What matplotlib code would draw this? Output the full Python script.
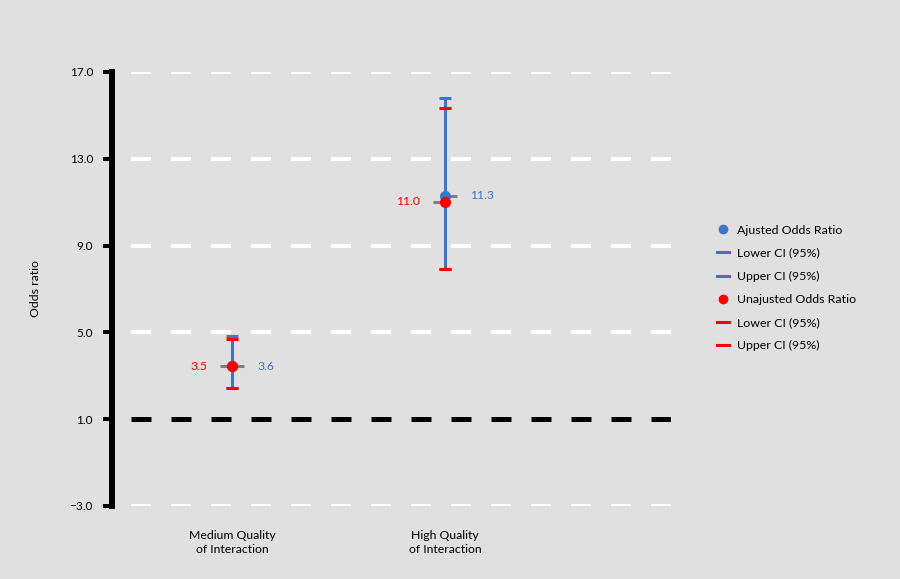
import matplotlib
matplotlib.use("Agg")
import matplotlib.pyplot as plt
from matplotlib.lines import Line2D
import numpy as np

categories = ["Medium Quality\nof Interaction", "High Quality\nof Interaction"]
adj_or = [3.44, 11.29]
adj_lower = [2.42, 7.92]
adj_upper = [4.83, 15.8]
adj_text = ["3.6", "11.3"]
unadj_or = [3.43, 11.02]
unadj_lower = [2.42, 7.92]
unadj_upper = [4.7, 15.34]
unadj_text = ["3.5", "11.0"]
yticks = [-3.0, 1.0, 5.0, 9.0, 13.0, 17.0]

BLUE = "#4472C4"
RED = "#FF0000"
GRAY = "#808080"
BG = "#E0E0E0"

plt.rcParams['font.family'] = ['Lato', 'DejaVu Sans']

fig = plt.figure(figsize=(9, 5.79), dpi=100, facecolor=BG)
ax = fig.add_axes([112/900, 1-506/579, (671-112)/900, (506-72)/579])
ax.set_facecolor(BG)

x = np.array([1.0, 2.0])
ax.set_xlim(1 - 120/213, 2 + 226/213)
ax.set_ylim(-3, 17)

# grid lines
gx0 = (131-112)/559
for yt in yticks:
    if yt == 1.0:
        ax.axhline(yt, xmin=gx0, xmax=1, color="black", lw=3.6,
                   dashes=(4, 4), solid_capstyle='butt', dash_capstyle='butt', zorder=1)
    else:
        ax.axhline(yt, xmin=gx0, xmax=1, color="white", lw=3.0,
                   dashes=(4.8, 4.8), dash_capstyle='butt', zorder=1)

# error bars
adj = np.array(adj_or)
una = np.array(unadj_or)
eb_b = ax.errorbar(x, adj, yerr=[adj - np.array(adj_lower), np.array(adj_upper) - adj],
                   fmt='none', ecolor=BLUE, elinewidth=2.2, capsize=4.3, capthick=2.2, zorder=3)
eb_r = ax.errorbar(x, una, yerr=[una - np.array(unadj_lower), np.array(unadj_upper) - una],
                   fmt='none', ecolor=RED, elinewidth=2.2, capsize=4.3, capthick=2.2, zorder=4)
for lc in eb_r.lines[2]:
    lc.set_visible(False)

# gray value ticks
off = 12/213
for xi, a, u in zip(x, adj, una):
    ax.plot([xi - off, xi], [u, u], color=GRAY, lw=2.2, solid_capstyle='butt', zorder=5)
    ax.plot([xi, xi + off], [a, a], color=GRAY, lw=2.2, solid_capstyle='butt', zorder=5)

ax.plot(x, adj, 'o', color=BLUE, ms=7, zorder=6)
ax.plot(x, una, 'o', color=RED, ms=7, zorder=7)

for xi, a, u, at, ut in zip(x, adj, una, adj_text, unadj_text):
    ax.annotate(at, (xi, a), xytext=(18, 0), textcoords='offset points',
                ha='left', va='center', color=BLUE, fontsize=8.7)
    ax.annotate(ut, (xi, u), xytext=(-18, 0), textcoords='offset points',
                ha='right', va='center', color=RED, fontsize=8.7)

# axes styling
for s in ['top', 'right', 'bottom']:
    ax.spines[s].set_visible(False)
ax.spines['left'].set_linewidth(4.3)
ax.spines['left'].set_color('black')
ax.spines['left'].set_capstyle('projecting')
ax.set_yticks(yticks)
ax.set_yticklabels([f"{v:.1f}".replace("-", "\u2212") for v in yticks], fontsize=8.5)
ax.tick_params(axis='y', length=6.5, width=2.9, color='black', pad=7.2)
ax.set_xticks(x)
ax.set_xticklabels(categories, fontsize=8.8, linespacing=1.4)
ax.tick_params(axis='x', length=0, pad=17)
ax.set_ylabel("Odds ratio", fontsize=8.8)
ax.yaxis.set_label_coords(-(112-41)/559, 0.5)

handles = [
    Line2D([], [], ls='none', marker='o', color=BLUE, ms=6),
    Line2D([], [], color=BLUE, lw=2.2),
    Line2D([], [], color=BLUE, lw=2.2),
    Line2D([], [], ls='none', marker='o', color=RED, ms=6),
    Line2D([], [], color=RED, lw=2.2),
    Line2D([], [], color=RED, lw=2.2),
]
labels = ["Ajusted Odds Ratio", "Lower CI (95%)", "Upper CI (95%)",
          "Unajusted Odds Ratio", "Lower CI (95%)", "Upper CI (95%)"]
fig.legend(handles, labels, loc='center left', bbox_to_anchor=(717/900, 1-288/579),
           frameon=False, fontsize=8.9, handlelength=1.0, handletextpad=0.65,
           labelspacing=0.98, borderpad=0, borderaxespad=0)

fig.savefig("out.png", dpi=100, facecolor=BG)
